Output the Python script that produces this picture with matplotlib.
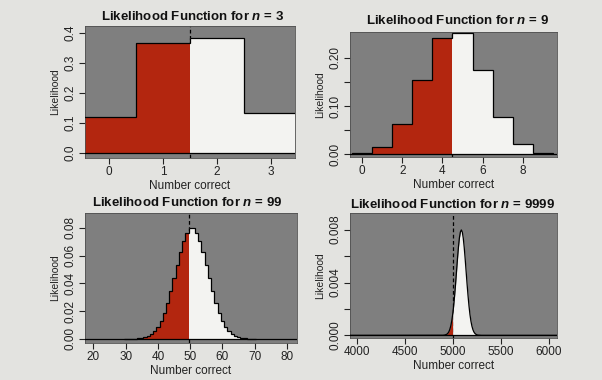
import numpy as np
import matplotlib
matplotlib.use("Agg")
import matplotlib.pyplot as plt
from matplotlib.ticker import FixedLocator, FixedFormatter

plt.rcParams['font.family'] = ['Liberation Sans', 'DejaVu Sans']
plt.rcParams['mathtext.fontset'] = 'custom'
plt.rcParams['mathtext.bfit'] = 'Liberation Sans:bold:italic'

# ---- data ----
k3 = [0, 1, 2, 3]
lik3 = [0.118, 0.367, 0.382, 0.133]

k9 = [0, 1, 2, 3, 4, 5, 6, 7, 8, 9]
lik9 = [0.0016, 0.0153, 0.0635, 0.154, 0.241, 0.251, 0.174, 0.0776, 0.0202, 0.0023]

k99 = list(range(30, 71))
lik99 = [0.0, 0.0, 0.00007, 0.00015, 0.0003, 0.0006, 0.0011, 0.0020, 0.0034, 0.0055,
         0.0086, 0.0129, 0.0186, 0.0257, 0.0342, 0.0436, 0.0533, 0.0627, 0.0707, 0.0767,
         0.0798, 0.0798, 0.0766, 0.0707, 0.0627, 0.0533, 0.0436, 0.0342, 0.0257, 0.0186,
         0.0129, 0.0086, 0.0055, 0.0034, 0.0020, 0.0011, 0.0006, 0.0003, 0.00015, 0.00007, 0.0]

x9999 = [3930, 4900, 4920, 4940, 4950, 4960, 4970, 4980, 4990, 5000, 5010, 5020, 5030,
         5040, 5050, 5060, 5070, 5080, 5090, 5100, 5110, 5120, 5130, 5140, 5150,
         5160, 5170, 5180, 5190, 5200, 5210, 5220, 5230, 5240, 5250, 5260, 5280, 5300, 6090]
lik9999 = [0.0, 0.00001, 0.00003, 0.00009, 0.00016, 0.00027, 0.00045, 0.00071, 0.00108,
           0.00158, 0.00222, 0.00300, 0.00388, 0.00484, 0.00580, 0.00667, 0.00737, 0.00782,
           0.00798, 0.00782, 0.00737, 0.00667, 0.00580, 0.00484, 0.00388, 0.00300, 0.00222,
           0.00158, 0.00108, 0.00071, 0.00045, 0.00027, 0.00016, 0.00009, 0.00005, 0.00002,
           0.00001, 0.0, 0.0]
cut3, cut9, cut99, cut9999 = 1.5, 4.5, 49.5, 5000

titles = ["3", "9", "99", "9999"]

PAGE = '#e3e3e0'
GRAY = '#7f7f7f'
RED = '#b3260f'
WHITE = '#f3f3f1'

fig = plt.figure(figsize=(6.02, 3.80), dpi=100, facecolor=PAGE)

W, H = 602, 380
def add_ax(x0, y0, x1, y1):
    return fig.add_axes([x0 / W, 1 - y1 / H, (x1 - x0) / W, (y1 - y0) / H])

ax1 = add_ax(85, 26, 295, 158)
ax2 = add_ax(350, 32, 557, 157)
ax3 = add_ax(85, 213, 297, 343)
ax4 = add_ax(350, 213, 557, 338)

def style(ax, title, tcx, tcy):
    ax.set_facecolor(GRAY)
    for s in ax.spines.values():
        s.set_color('#505050')
        s.set_linewidth(0.6)
    ax.tick_params(direction='out', length=4, width=0.8, labelsize=8.5, colors='#222222', pad=2)
    ax.tick_params(axis='y', labelrotation=90)
    for lab in ax.get_yticklabels():
        lab.set_va('center')
    ax.set_xlabel("Number correct", fontsize=8.5, labelpad=1, color='#222222')
    ax.set_ylabel("Likelihood", fontsize=7.5, labelpad=3, color='#222222')
    fig.text(tcx / W, 1 - tcy / H, r"Likelihood Function for $\mathbfit{n}$ = " + title,
             ha='center', va='center', fontsize=9.5, fontweight='bold', color='#111111')

def bars(ax, k, v, cut):
    k = np.asarray(k, float)
    v = np.asarray(v, float)
    cols = [RED if kk < cut else WHITE for kk in k]
    ax.bar(k, v, width=1.0, color=cols, edgecolor='none', zorder=2)
    edges = np.append(k - 0.5, k[-1] + 0.5)
    ax.stairs(v, edges, color='black', linewidth=0.9, zorder=3)
    ax.axhline(0, color='black', linewidth=0.9, zorder=3)
    ax.axvline(cut, color='black', linewidth=0.9, linestyle=(0, (3, 2)), zorder=1)

# panel 1
ax1.set_xlim(-0.45, 3.45)
ax1.set_ylim(-0.017, 0.423)
bars(ax1, k3, lik3, cut3)
ax1.xaxis.set_major_locator(FixedLocator([0, 1, 2, 3]))
ax1.yaxis.set_major_locator(FixedLocator([0, 0.1, 0.2, 0.3, 0.4]))
ax1.yaxis.set_major_formatter(FixedFormatter(["0.0", "0.1", "0.2", "0.3", "0.4"]))
style(ax1, titles[0], 193, 16)

# panel 2
ax2.set_xlim(-0.6, 9.7)
ax2.set_ylim(-0.006, 0.254)
bars(ax2, k9, lik9, cut9)
ax2.xaxis.set_major_locator(FixedLocator([0, 2, 4, 6, 8]))
ax2.yaxis.set_major_locator(FixedLocator([0, 0.05, 0.10, 0.15, 0.20]))
ax2.yaxis.set_major_formatter(FixedFormatter(["0.00", "", "0.10", "", "0.20"]))
style(ax2, titles[1], 457, 21)

# panel 3
ax3.set_xlim(17.4, 83.1)
ax3.set_ylim(-0.003, 0.0908)
bars(ax3, k99, lik99, cut99)
ax3.xaxis.set_major_locator(FixedLocator([20, 30, 40, 50, 60, 70, 80]))
ax3.yaxis.set_major_locator(FixedLocator([0, 0.02, 0.04, 0.06, 0.08]))
ax3.yaxis.set_major_formatter(FixedFormatter(["0.00", "0.02", "0.04", "0.06", "0.08"]))
style(ax3, titles[2], 187, 203)

# panel 4
ax4.set_xlim(3930, 6087)
ax4.set_ylim(-0.0002, 0.00926)
xx = np.asarray(x9999, float)
yy = np.asarray(lik9999, float)
ax4.fill_between(xx, 0, yy, where=xx <= cut9999, color=RED, linewidth=0, zorder=2)
ax4.fill_between(xx, 0, yy, where=xx >= cut9999, color=WHITE, linewidth=0, zorder=2)
ax4.plot(xx, yy, color='black', linewidth=0.9, zorder=3)
ax4.axhline(0, color='black', linewidth=0.9, zorder=3)
ax4.axvline(cut9999, color='black', linewidth=0.9, linestyle=(0, (3, 2)), zorder=1)
ax4.xaxis.set_major_locator(FixedLocator([4000, 4500, 5000, 5500, 6000]))
ax4.yaxis.set_major_locator(FixedLocator([0, 0.002, 0.004, 0.006, 0.008]))
ax4.yaxis.set_major_formatter(FixedFormatter(["0.000", "", "0.004", "", "0.008"]))
style(ax4, titles[3], 453, 205)

fig.savefig("out.png", dpi=100, facecolor=PAGE)
